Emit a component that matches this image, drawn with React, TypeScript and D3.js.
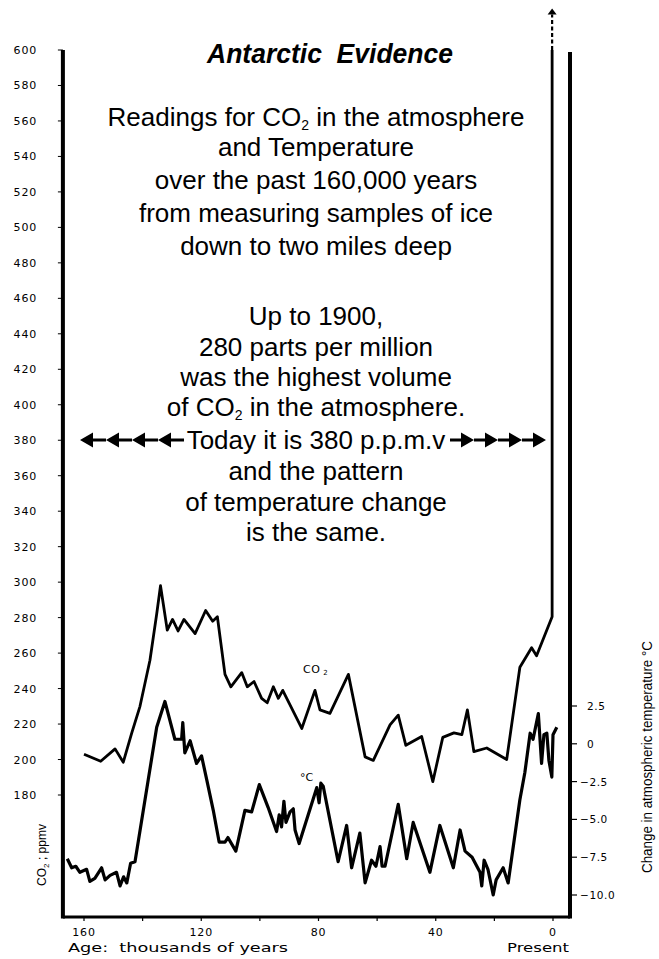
import React from 'react';
import * as d3 from 'd3';

// CO2 (ppmv), age in thousands of years
const co2Age = [160.0, 154.3, 149.4, 146.6, 143.7, 140.9, 137.5, 135.2, 133.9, 131.6, 129.8, 127.9, 125.9, 122.1, 118.5, 116.1, 114.5, 111.9, 109.9, 106.2, 104.3, 102.0, 99.4, 97.5, 95.4, 93.7, 92.2, 85.7, 81.2, 79.5, 76.1, 69.8, 64.1, 61.3, 55.6, 52.8, 50.2, 44.8, 41.0, 37.6, 33.8, 31.1, 29.2, 27.0, 22.6, 15.8, 11.3, 7.3, 5.6, 0.3, 0.3];
const co2Ppm = [203, 199, 206, 198.5, 215, 230, 256, 282, 298, 273, 279, 272.5, 279, 271, 284, 278, 280.5, 248, 241, 249, 241, 244, 234.5, 232, 241, 234.5, 239, 217.5, 239, 228, 226, 248, 201.5, 199.5, 219.5, 225, 208, 213, 187.5, 212.5, 215, 214, 228, 204.5, 206.5, 200, 252, 263, 258.5, 280.5, 600];
// off the top of the chart: dashed arrow
const co2BeyondPpm = [600, 620];

// temperature change (°C)
const tempAge = [165.7, 164.2, 162.8, 161.4, 159.1, 158.0, 156.3, 154.0, 152.8, 151.1, 148.9, 147.7, 146.5, 145.4, 144.1, 142.6, 138.1, 135.2, 132.4, 129.0, 126.7, 126.3, 125.6, 123.8, 121.6, 119.9, 118.1, 115.9, 113.9, 111.9, 110.9, 108.2, 105.1, 102.8, 100.2, 97.2, 94.3, 93.4, 92.6, 91.8, 91.1, 89.7, 88.6, 88.0, 86.6, 80.6, 79.8, 79.2, 78.4, 73.3, 70.4, 68.7, 65.9, 64.1, 61.9, 60.4, 59.0, 58.3, 57.3, 52.8, 49.9, 47.7, 42.0, 38.6, 34.0, 31.7, 30.0, 27.6, 24.9, 24.3, 23.5, 22.2, 20.4, 19.4, 17.0, 15.3, 11.3, 9.6, 7.8, 6.8, 5.0, 3.9, 3.1, 2.1, 1.4, 0.4, 0.0, -1.3];
const tempC = [-7.6, -8.2, -8.1, -8.5, -8.3, -9.1, -8.9, -8.2, -9.0, -8.7, -8.5, -9.4, -8.8, -9.2, -7.9, -7.8, -2.4, 1.1, 2.8, 0.3, 0.3, 1.4, -0.6, 0.2, -1.3, -0.8, -2.4, -4.4, -6.5, -6.5, -6.2, -7.1, -4.4, -4.5, -2.7, -4.2, -5.8, -4.7, -5.5, -3.8, -5.2, -4.5, -4.3, -5.7, -6.6, -2.9, -3.9, -2.6, -2.8, -7.8, -5.4, -8.2, -5.9, -9.2, -7.7, -8.1, -6.8, -8.1, -8.1, -4.0, -7.6, -5.2, -8.5, -5.4, -8.2, -5.7, -7.1, -7.5, -8.5, -9.4, -7.7, -8.3, -10.0, -9.0, -8.2, -9.2, -3.7, -1.9, 0.7, 0.3, 2.0, -1.3, 0.6, 0.7, -1.1, -2.2, 0.6, 1.1];

const ppmTicks = d3.range(180, 601, 20);
const tempTicks = [2.5, 0, -2.5, -5, -7.5, -10];
const ageTicks = [160, 140, 120, 100, 80, 60, 40, 20, 0];
const ageLabels = [160, 120, 80, 40, 0];

const title = 'Antarctic  Evidence';
const bodyLines = [
  'Readings for CO₂ in the atmosphere',
  'and Temperature',
  'over the past 160,000 years',
  'from measuring samples of ice',
  'down to two miles deep',
  '',
  'Up to 1900,',
  '280 parts per million',
  'was the highest volume',
  'of CO₂ in the atmosphere.',
  'Today it is 380 p.p.m.v',
  'and the pattern',
  'of temperature change',
  'is the same.',
];
const bodyBaselines = [126, 156, 189, 222, 255, 0, 325, 356, 386, 416, 449, 480, 511, 541];
const todayLine = 10;

const W = 659;
const H = 959;

const x = d3.scaleLinear().domain([160, 0]).range([84, 553]);
const yCo2 = d3.scaleLinear().domain([180, 600]).range([795, 50]);
const yTemp = d3.scaleLinear().domain([-10, 2.5]).range([895, 706]);

const frameLeft = x(167.2);
const frameRight = x(-5.8);
const frameTop = yCo2(600);
const frameBottom = 917;

const tickFont = "'DejaVu Sans', Verdana, sans-serif";
const textFont = "'Liberation Sans', Arial, Helvetica, sans-serif";
const bodySize = 26;
const textCenter = 316;

const withSub = (s: string) => {
  const parts = s.split('₂');
  if (parts.length === 1) return s;
  return (
    <>
      {parts[0]}
      <tspan fontSize={14} dy={4}>2</tspan>
      <tspan dy={-4}>{parts[1]}</tspan>
    </>
  );
};

// one arrow: filled head + stem; dir = -1 points left, 1 points right
const arrowPath = (tip: number, dir: number, cy: number, len: number) => {
  const b = tip - dir * 13;
  const e = tip - dir * len;
  return `M${tip},${cy} L${b},${cy - 7.5} L${b},${cy + 7.5} Z M${b},${cy - 1.6} L${e},${cy - 1.6} L${e},${cy + 1.6} L${b},${cy + 1.6} Z`;
};

export default function App() {
  const co2Line = d3.line<number>()
    .x((_, i) => x(co2Age[i]))
    .y((d) => yCo2(d));
  const tempLine = d3.line<number>()
    .x((_, i) => x(tempAge[i]))
    .y((d) => yTemp(d));

  const lastAge = co2Age[co2Age.length - 1];
  const arrowY = bodyBaselines[todayLine] - 9;
  const leftTips = d3.range(4).map((i) => 80 + i * 26);
  const rightTips = d3.range(4).map((i) => 546 - i * 24);

  return (
    <svg width={W} height={H} style={{ position: 'absolute', left: 0, top: 0, background: '#fff' }}>
      <rect width={W} height={H} fill="#fff" />

      {/* frame */}
      <line x1={frameLeft} x2={frameLeft} y1={frameTop} y2={frameBottom + 1.5} stroke="#000" strokeWidth={4} />
      <line x1={frameRight} x2={frameRight} y1={frameTop + 2} y2={frameBottom + 1.5} stroke="#000" strokeWidth={4} />
      <line x1={frameLeft} x2={frameRight} y1={frameBottom} y2={frameBottom} stroke="#000" strokeWidth={3} />

      {/* left CO2 axis */}
      {ppmTicks.map((t) => (
        <g key={t}>
          <line x1={frameLeft - 5} x2={frameLeft} y1={yCo2(t)} y2={yCo2(t)} stroke="#000" strokeWidth={1} />
          <text x={37} y={yCo2(t) + 4} textAnchor="end" fontFamily={tickFont} fontSize={11} letterSpacing={0.8} fill="#000">{t}</text>
        </g>
      ))}
      <text transform={`translate(46,${855}) rotate(-90)`} textAnchor="middle" fontFamily={textFont} fontSize={12} fill="#000">
        CO<tspan fontSize={8} dy={3}>2</tspan><tspan dy={-3}> ; ppmv</tspan>
      </text>

      {/* right temperature axis */}
      {tempTicks.map((t) => (
        <g key={t}>
          <line x1={frameRight} x2={frameRight + 7} y1={yTemp(t)} y2={yTemp(t)} stroke="#000" strokeWidth={1.2} />
          <text x={587} y={yTemp(t) + 4} textAnchor="start" fontFamily={tickFont} fontSize={10.5} letterSpacing={0.6} fill="#000">
            {t < 0 ? <tspan dx={-7}>{'−' + Math.abs(t).toFixed(1)}</tspan> : t === 0 ? '0' : t.toFixed(1)}
          </text>
        </g>
      ))}
      <text transform={`translate(652,${757}) rotate(-90)`} textAnchor="middle" fontFamily={textFont} fontSize={14}
        textLength={232} lengthAdjust="spacingAndGlyphs" fill="#000">
        Change in atmospheric temperature °C
      </text>

      {/* bottom age axis */}
      {ageTicks.map((t) => (
        <line key={t} x1={x(t)} x2={x(t)} y1={frameBottom} y2={frameBottom + 4} stroke="#000" strokeWidth={1.2} />
      ))}
      {ageLabels.map((t) => (
        <text key={t} x={x(t)} y={936} textAnchor="middle" fontFamily={tickFont} fontSize={11} letterSpacing={0.8} fill="#000">{t}</text>
      ))}
      <text x={68} y={952} fontFamily={tickFont} fontSize={13} textLength={220} lengthAdjust="spacingAndGlyphs" style={{ whiteSpace: 'pre' }} fill="#000">
        {'Age:  thousands of years'}
      </text>
      <text x={507} y={952} fontFamily={tickFont} fontSize={13} textLength={62} lengthAdjust="spacingAndGlyphs" fill="#000">Present</text>

      {/* series */}
      <path d={co2Line(co2Ppm) || ''} fill="none" stroke="#000" strokeWidth={2.8} strokeLinejoin="round" />
      <line x1={x(lastAge)} x2={x(lastAge)} y1={yCo2(co2BeyondPpm[0])} y2={yCo2(co2BeyondPpm[1])} stroke="#000" strokeWidth={2.2} strokeDasharray="4,2.5" />
      <path d={`M${x(lastAge)},${yCo2(co2BeyondPpm[1]) - 6} l-4.5,6 l9,0 Z`} fill="#000" />
      <path d={tempLine(tempC) || ''} fill="none" stroke="#000" strokeWidth={3.2} strokeLinejoin="round" />

      <text x={303} y={673} fontFamily={tickFont} fontSize={11} letterSpacing={0.5} fill="#000">
        CO<tspan fontSize={7} dx={3} dy={2}>2</tspan>
      </text>
      <text x={300} y={781} fontFamily={tickFont} fontSize={11} fill="#000">°C</text>

      {/* annotation text */}
      <text x={330} y={63} textAnchor="middle" fontFamily={textFont} fontWeight="bold" fontStyle="italic" fontSize={27}
        textLength={246} lengthAdjust="spacingAndGlyphs" style={{ whiteSpace: 'pre' }} fill="#000">
        {title}
      </text>
      {bodyLines.map((s, i) => s && (
        <text key={i} x={textCenter} y={bodyBaselines[i]} textAnchor="middle" fontFamily={textFont} fontSize={bodySize} fill="#000">
          {withSub(s)}
        </text>
      ))}
      {leftTips.map((tip) => (
        <path key={'l' + tip} d={arrowPath(tip, -1, arrowY, 26)} fill="#000" />
      ))}
      {rightTips.map((tip) => (
        <path key={'r' + tip} d={arrowPath(tip, 1, arrowY, 24)} fill="#000" />
      ))}
    </svg>
  );
}
